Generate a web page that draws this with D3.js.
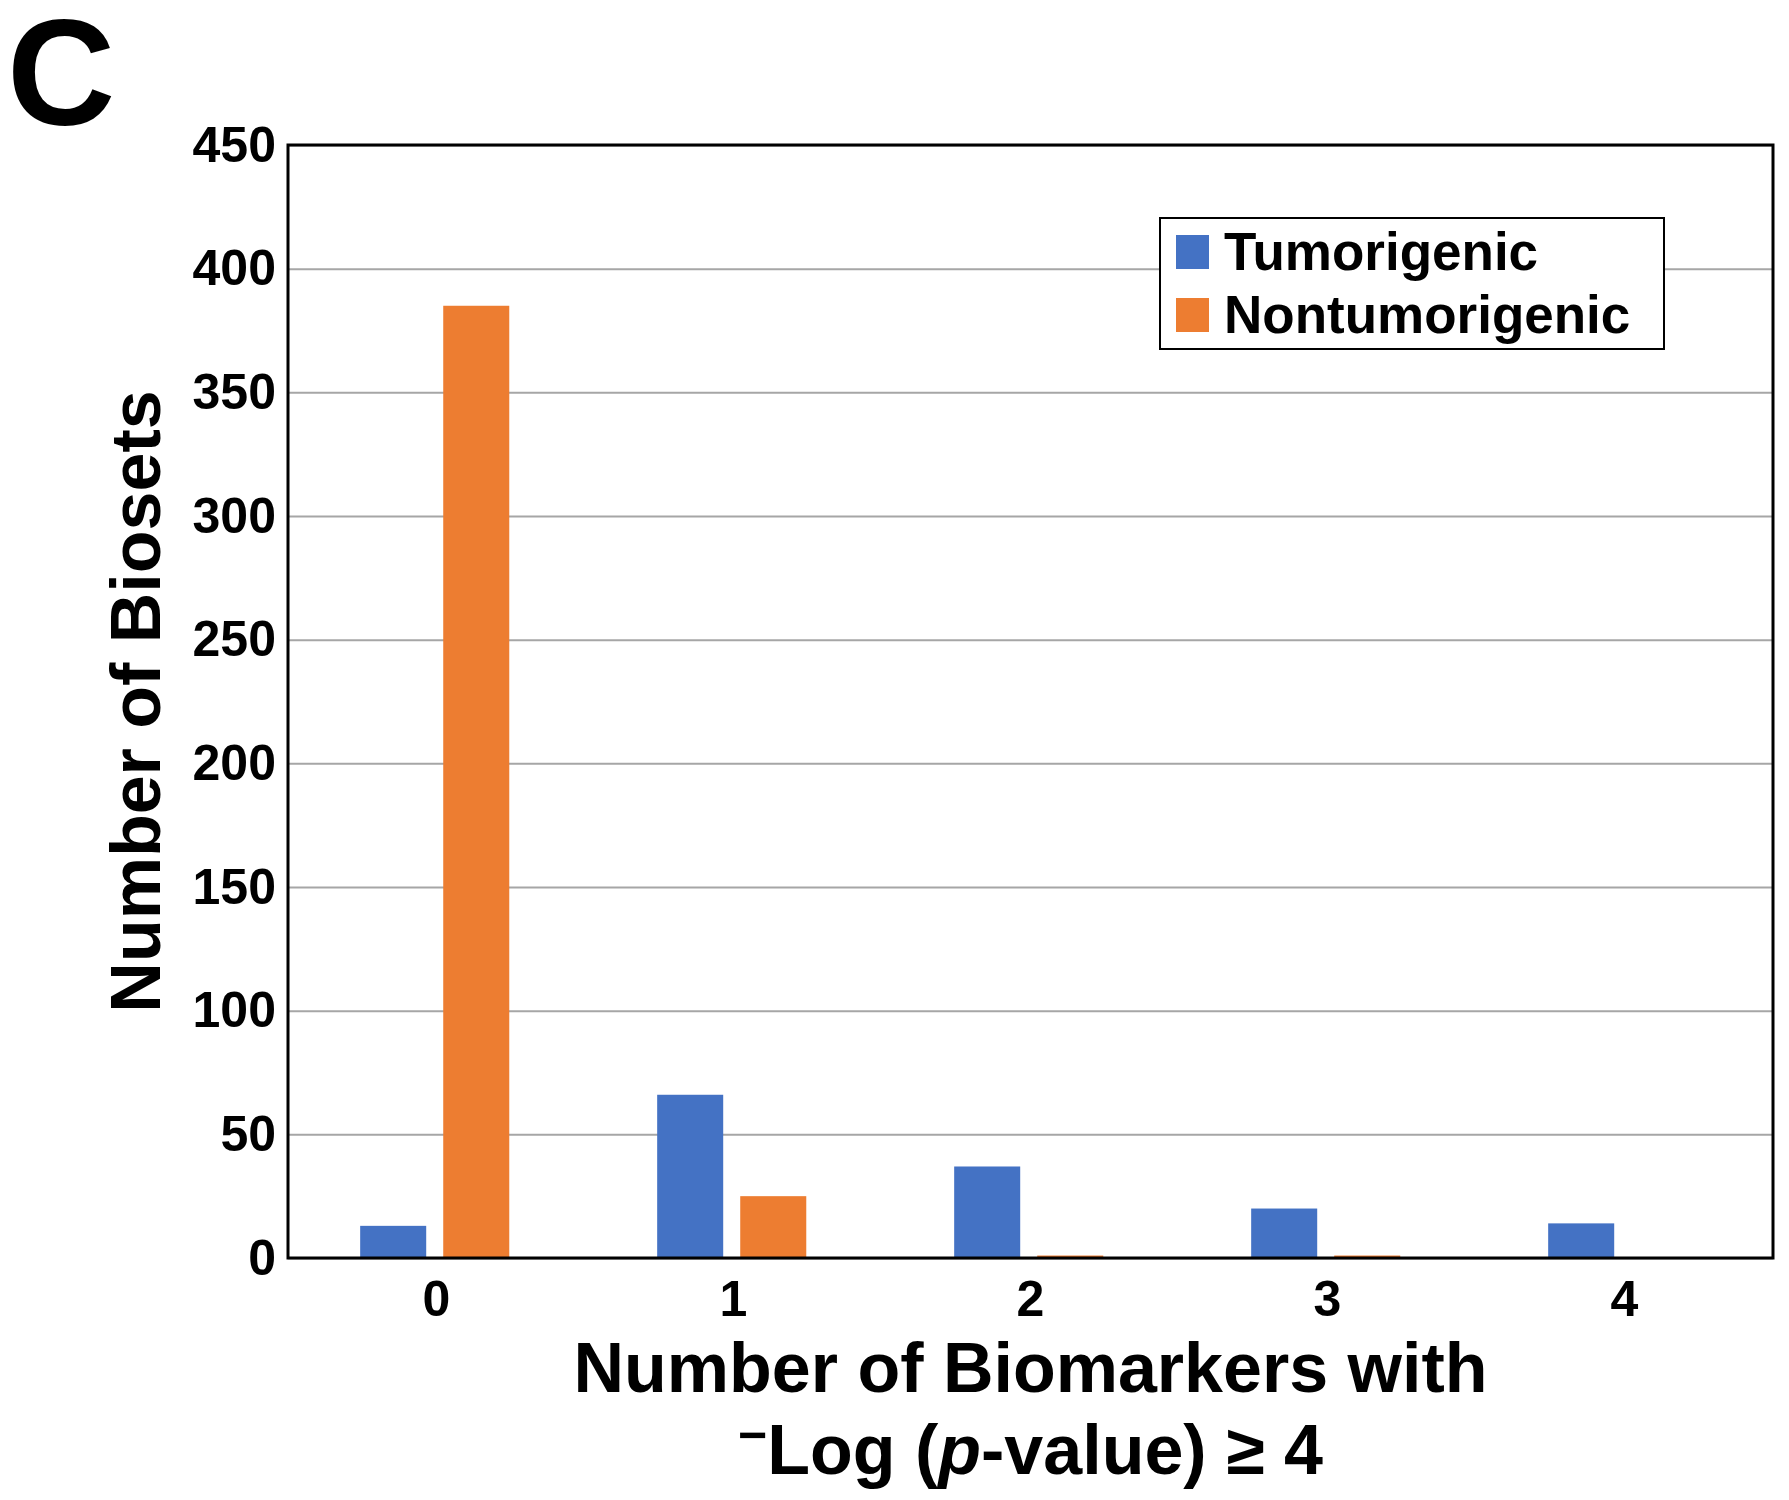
<!DOCTYPE html>
<html>
<head>
<meta charset="utf-8">
<script src="https://cdn.jsdelivr.net/npm/d3@7"></script>
<style>
  body { margin: 0; background: #fff; }
  text { font-family: "Liberation Sans", Arial, sans-serif; font-weight: bold; fill: #000; }
</style>
</head>
<body>
<div id="chart"></div>
<script>
// data
var categories = ["0", "1", "2", "3", "4"];
var seriesNames = ["Tumorigenic", "Nontumorigenic"];
var tumorigenic = [13, 66, 37, 20, 14];
var nontumorigenic = [385, 25, 1, 1, 0];
var yTicks = [0, 50, 100, 150, 200, 250, 300, 350, 400, 450];
var colors = ["#4472C4", "#ED7D31"];

var width = 1789;
var height = 1500;
var margin = { left: 288, right: 16, top: 145, bottom: 242 };

var svg = d3.select('#chart')
    .append('svg')
    .attr('width', width)
    .attr('height', height);

var rows = categories.map(function (c, i) {
    return { cat: c, values: [tumorigenic[i], nontumorigenic[i]] };
});

var x = d3.scaleBand()
    .domain(categories)
    .range([margin.left, width - margin.right])
    .paddingInner(0)
    .paddingOuter(0);

var bw = x.bandwidth();
var x1 = d3.scaleBand()
    .domain(seriesNames)
    .range([bw * 0.243, bw * 0.745])
    .paddingInner(0.205);

var y = d3.scaleLinear()
    .domain([0, 450])
    .range([height - margin.bottom, margin.top]);

// gridlines
svg.append('g')
    .attr('transform', 'translate(' + margin.left + ',0)')
    .call(d3.axisLeft(y).tickValues(yTicks).tickSize(-(width - margin.right - margin.left)).tickFormat(''))
    .call(g => g.select('.domain').remove())
    .call(g => g.selectAll('line').attr('stroke', '#a6a6a6').attr('stroke-width', 2));

// bars
var groups = svg.append('g').selectAll('g')
    .data(rows)
    .enter()
    .append('g')
    .attr('transform', d => 'translate(' + x(d.cat) + ',0)');

groups.selectAll('rect')
    .data(d => d.values.map((v, i) => ({ key: seriesNames[i], value: v, i: i })))
    .enter()
    .append('rect')
    .attr('x', d => x1(d.key))
    .attr('width', x1.bandwidth())
    .attr('y', d => y(d.value))
    .attr('height', d => y(0) - y(d.value))
    .attr('fill', d => colors[d.i]);

// frame
svg.append('rect')
    .attr('x', margin.left)
    .attr('y', margin.top)
    .attr('width', width - margin.right - margin.left)
    .attr('height', height - margin.bottom - margin.top)
    .attr('fill', 'none')
    .attr('stroke', '#000')
    .attr('stroke-width', 3);

// y axis labels
svg.append('g')
    .attr('transform', 'translate(' + margin.left + ',0)')
    .call(d3.axisLeft(y).tickValues(yTicks).tickSize(0).tickPadding(12))
    .call(g => g.select('.domain').remove())
    .call(g => g.selectAll('text')
        .attr('font-size', 50)
        .attr('font-family', '"Liberation Sans", Arial, sans-serif')
        .attr('font-weight', 'bold')
        .attr('fill', '#000'));

// x axis labels
svg.append('g')
    .attr('transform', 'translate(0,' + (height - margin.bottom) + ')')
    .call(d3.axisBottom(x).tickSize(0).tickPadding(22))
    .call(g => g.select('.domain').remove())
    .call(g => g.selectAll('text')
        .attr('font-size', 50)
        .attr('font-family', '"Liberation Sans", Arial, sans-serif')
        .attr('font-weight', 'bold')
        .attr('fill', '#000'));

// axis titles
var cx = (margin.left + width - margin.right) / 2;
svg.append('text')
    .attr('x', cx)
    .attr('y', 1392)
    .attr('text-anchor', 'middle')
    .attr('font-size', 70)
    .text('Number of Biomarkers with');

var t2 = svg.append('text')
    .attr('x', cx)
    .attr('y', 1474)
    .attr('text-anchor', 'middle')
    .attr('font-size', 70);
t2.append('tspan').attr('font-size', 50).attr('dy', -22).text('\u2212');
t2.append('tspan').attr('dy', 22).text('Log (');
t2.append('tspan').attr('font-style', 'italic').text('p');
t2.append('tspan').text('-value) \u2265 4');

svg.append('text')
    .attr('transform', 'translate(160,' + ((margin.top + height - margin.bottom) / 2) + ') rotate(-90)')
    .attr('text-anchor', 'middle')
    .attr('font-size', 70)
    .text('Number of Biosets');

// panel letter
svg.append('text')
    .attr('x', 7)
    .attr('y', 125)
    .attr('font-size', 150)
    .text('C');

// legend
var legend = svg.append('g').attr('transform', 'translate(1160,218)');
legend.append('rect')
    .attr('width', 504)
    .attr('height', 131)
    .attr('fill', '#fff')
    .attr('stroke', '#000')
    .attr('stroke-width', 2);

var items = legend.selectAll('g.item')
    .data(seriesNames)
    .enter()
    .append('g')
    .attr('class', 'item')
    .attr('transform', (d, i) => 'translate(16,' + (17 + i * 63) + ')');

items.append('rect')
    .attr('width', 33)
    .attr('height', 34)
    .attr('fill', (d, i) => colors[i]);

items.append('text')
    .attr('x', 48)
    .attr('y', 35)
    .attr('font-size', 53)
    .text(d => d);
</script>
</body>
</html>
